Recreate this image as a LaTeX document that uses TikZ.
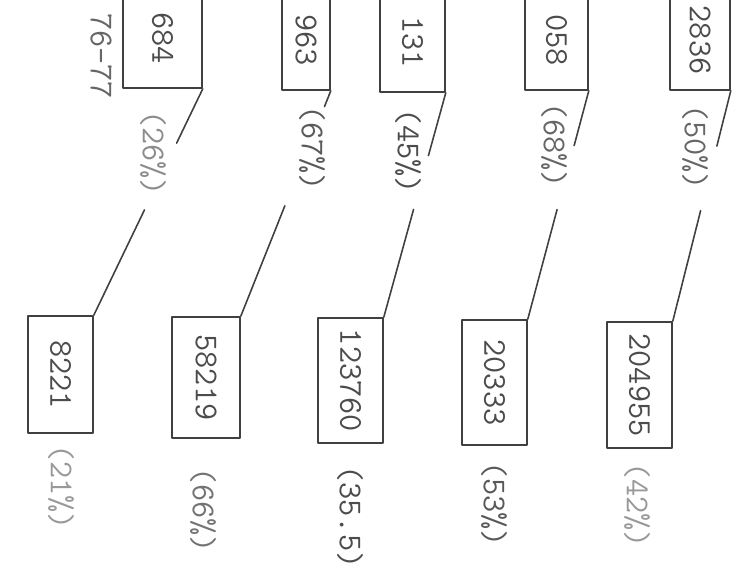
\documentclass[tikz,border=0pt]{standalone}
\usetikzlibrary{calc}
\begin{document}
\begin{tikzpicture}[x=0.02cm,y=-0.02cm,line join=round,line cap=round,
    font=\fontsize{19}{20}\selectfont\ttfamily,
    box/.style={draw=black!75,line width=0.9pt,inner sep=0pt,minimum height=2cm,text=black!70},
    link/.style={draw=black!75,line width=0.9pt},
    pct/.style={rotate=-90,inner sep=1pt}]
  \useasboundingbox (0,0) rectangle (752,574);
  \clip (0,0) rectangle (752,574);
  % upper row, cut off by the edge of the sheet
  \foreach \n/\x/\y/\w/\t in {1/162.5/38/1.58/684,2/306/40/0.96/963,3/412.5/42/1.3/131,4/556.5/40/1.26/058,5/700/40/1.2/2836}
    \node[box,minimum width=\w cm] (t\n) at (\x,\y) {\rotatebox{-90}{\t}};
  \node[pct,text=black!60] (yr) at (101,56) {76-77};
  % lower row
  \foreach \n/\x/\y/\w/\h/\t in {1/60.5/374.5/1.3/2.34/8221,2/206/377.5/1.36/2.42/58219,3/350.5/380.5/1.3/2.5/123760,4/494.5/382.5/1.3/2.5/20333,5/639.5/385/1.3/2.52/204955}
    \node[box,minimum width=\w cm,minimum height=\h cm] (b\n) at (\x,\y) {\rotatebox{-90}{\t}};
  % shares
  \foreach \n/\x/\y/\t/\c in {1/153/153/(26\%)/45,2/312/148/(67\%)/65,3/408/151/(45\%)/70,4/554/145/(68\%)/60,5/695/147/(50\%)/60}
    \node[pct,text=black!\c] (p\n) at (\x,\y) {\t};
  \foreach \n/\x/\y/\t/\c in {1/61/487/(21\%)/40,2/203/510/(66\%)/55,3/350/517/(35.5)/70,4/494/504/(53\%)/65,5/637/505/(42\%)/40}
    \node[pct,text=black!\c] (q\n) at (\x,\y) {\t};
  % connectors, broken where the share is written
  \foreach \n/\a/\b in {1/0.24/0.535,2/0.07/0.51,3/0.28/0.52,4/0.24/0.52,5/0.24/0.52}
    \draw[link] (t\n.south east) -- ($(t\n.south east)!\a!(b\n.north east)$)
      ($(t\n.south east)!\b!(b\n.north east)$) -- (b\n.north east);
\end{tikzpicture}
\end{document}
